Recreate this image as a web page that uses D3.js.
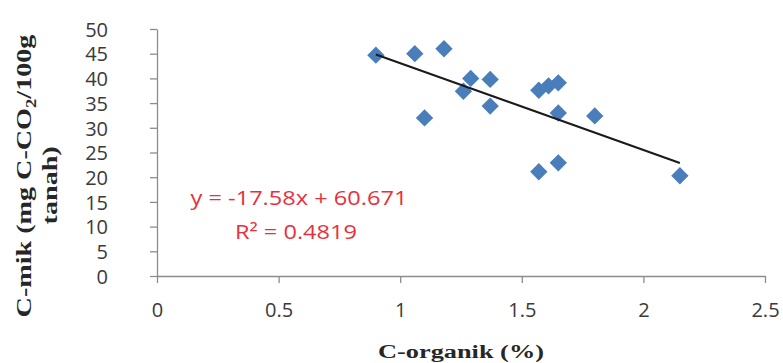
<!DOCTYPE html>
<html>
<head>
<meta charset="utf-8">
<script src="https://cdn.jsdelivr.net/npm/d3@7"></script>
<style>
  body { margin: 0; background: #fff; }
</style>
</head>
<body>
<div id="plot"></div>
<script>

// data

  var cOrganik = [0.90, 1.06, 1.18, 1.10, 1.29, 1.26, 1.37, 1.37, 1.57, 1.61, 1.65, 1.65, 1.80, 1.57, 1.65, 2.15];
  var cMik     = [44.7, 45.0, 46.0, 32.0, 40.0, 37.4, 39.8, 34.4, 37.6, 38.5, 39.1, 33.0, 32.4, 21.1, 22.9, 20.3];
  var xTicks = [0, 0.5, 1, 1.5, 2, 2.5];
  var yTicks = [0, 5, 10, 15, 20, 25, 30, 35, 40, 45, 50];
  var slope = -17.58;
  var intercept = 60.671;
  var eqLabel = "y = -17.58x + 60.671";
  var r2Label = "R² = 0.4819";

  var w = 783;
  var h = 363;
  var margin = {top: 29, right: 18, bottom: 87, left: 157};

  var xScale = d3.scaleLinear()
      .domain([0, 2.5])
      .range([margin.left, w - margin.right]);

  var yScale = d3.scaleLinear()
      .domain([0, 50])
      .range([h - margin.bottom, margin.top]);

  var svg = d3.select("div#plot")
    .append("svg")
      .attr("width", w)
      .attr("height", h);

// axes

  var xAxis = d3.axisBottom(xScale)
      .tickValues(xTicks)
      .tickSize(7)
      .tickSizeOuter(0)
      .tickPadding(20)
      .tickFormat(d => d);

  var yAxis = d3.axisLeft(yScale)
      .tickValues(yTicks)
      .tickSize(7)
      .tickSizeOuter(0)
      .tickPadding(42)
      .tickFormat(d => d);

  var gx = svg.append("g")
      .attr("transform", `translate(0, ${yScale(0)})`)
      .call(xAxis);

  var gy = svg.append("g")
      .attr("transform", `translate(${xScale(0)}, 0)`)
      .call(yAxis);

  svg.selectAll(".domain, .tick line")
      .attr("stroke", "#8c8c8c")
      .attr("stroke-width", 1.3);

  svg.selectAll(".tick text")
      .attr("fill", "#3a3a3a")
      .style("font-family", "'Open Sans', sans-serif")
      .style("font-size", "20px");

  gy.selectAll(".tick text").attr("dy", "0.36em");

// points

  var pts = cOrganik.map((d, i) => [d, cMik[i]]);

  svg.append("g")
    .selectAll("path")
      .data(pts)
    .enter().append("path")
      .attr("d", d3.symbol().type(d3.symbolSquare).size(150))
      .attr("transform", d => `translate(${xScale(d[0])}, ${yScale(d[1])}) rotate(45)`)
      .attr("fill", "#4a7ebb");

// trend line

  var xMin = d3.min(cOrganik), xMax = d3.max(cOrganik);

  svg.append("line")
      .attr("x1", xScale(xMin))
      .attr("y1", yScale(slope * xMin + intercept))
      .attr("x2", xScale(xMax))
      .attr("y2", yScale(slope * xMax + intercept))
      .attr("stroke", "#1a1a1a")
      .attr("stroke-width", 2);

// equation, a little stretched like the picture

  svg.append("text")
      .attr("transform", "translate(299, 205) scale(1.18, 1)")
      .attr("text-anchor", "middle")
      .attr("fill", "#e8303c")
      .style("font-family", "'Open Sans', sans-serif")
      .style("font-size", "20px")
      .text(eqLabel);

  svg.append("text")
      .attr("transform", "translate(296, 239) scale(1.18, 1)")
      .attr("text-anchor", "middle")
      .attr("fill", "#e8303c")
      .style("font-family", "'Open Sans', sans-serif")
      .style("font-size", "20px")
      .text(r2Label);

// axis titles

  svg.append("text")
      .attr("transform", "translate(461, 358) scale(1.35, 1)")
      .attr("text-anchor", "middle")
      .attr("fill", "#262626")
      .style("font-family", "'Liberation Serif', serif")
      .style("font-weight", "bold")
      .style("font-size", "19.5px")
      .text("C-organik (%)");

  var yTitle = svg.append("text")
      .attr("transform", "translate(0, 176) rotate(-90) scale(1.34, 1)")
      .attr("text-anchor", "middle")
      .attr("fill", "#262626")
      .style("font-family", "'Liberation Serif', serif")
      .style("font-weight", "bold")
      .style("font-size", "21px");

  var line1 = yTitle.append("tspan")
      .attr("x", 0)
      .attr("y", 31);
  line1.append("tspan").text("C-mik (mg C-CO");
  line1.append("tspan").attr("dy", 5).style("font-size", "14px").text("2");
  line1.append("tspan").attr("dy", -5).text("/100g");

  yTitle.append("tspan")
      .attr("x", -7)
      .attr("y", 57)
      .text("tanah)");

</script>
</body>
</html>
